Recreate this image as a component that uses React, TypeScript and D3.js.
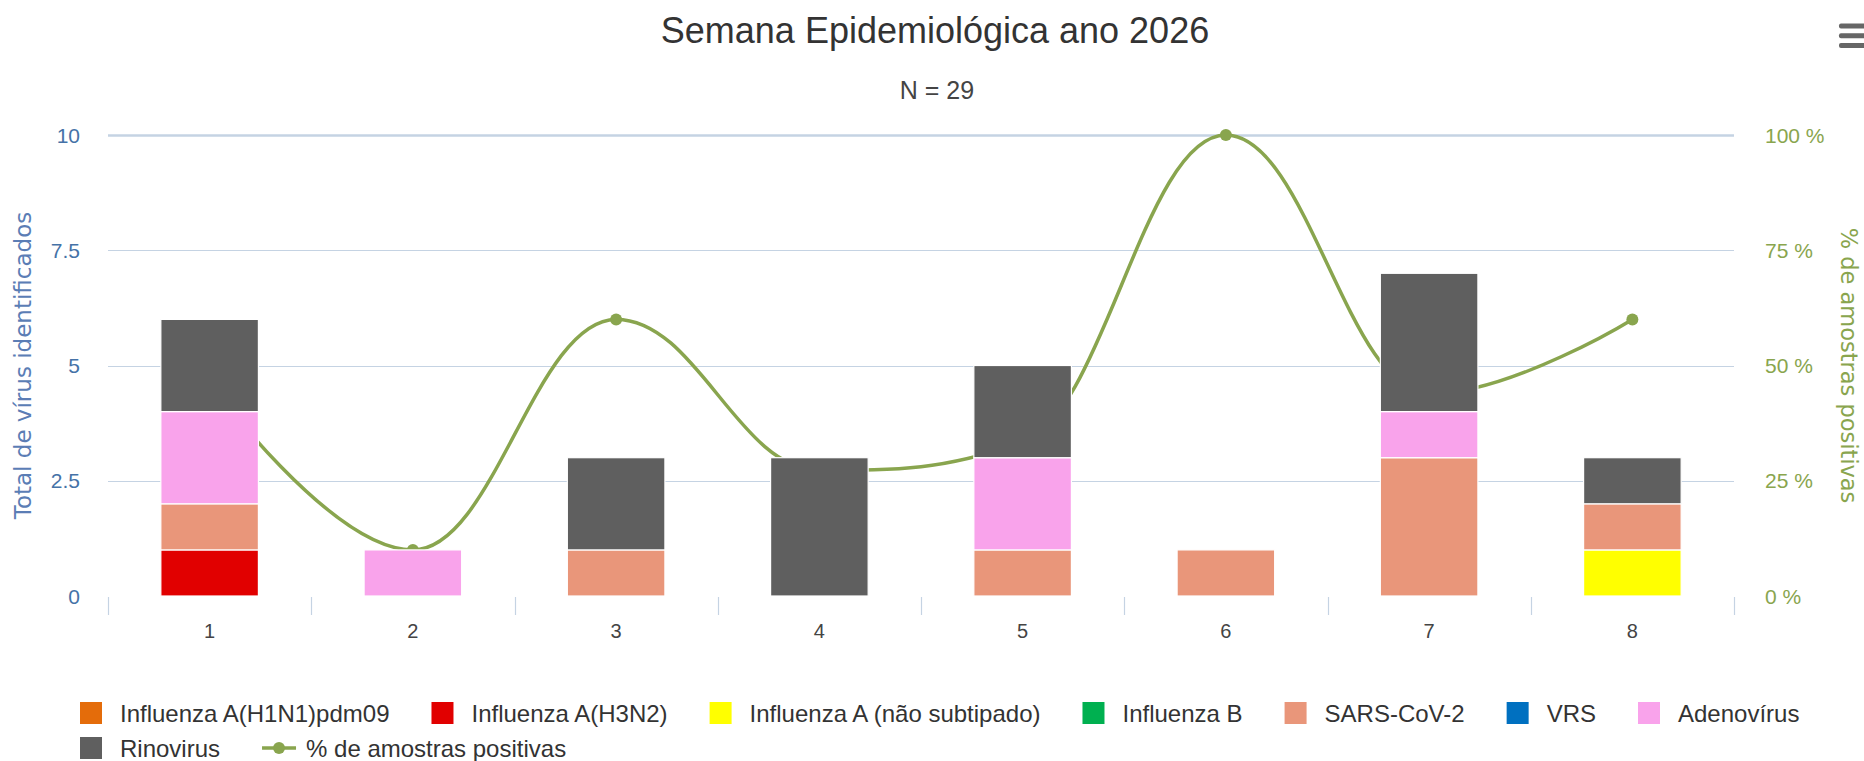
import { useEffect, useRef } from "react";
import * as d3 from "d3";

// chart data
const weeks = ["1", "2", "3", "4", "5", "6", "7", "8"];
const seriesNames = [
	"Influenza A(H1N1)pdm09",
	"Influenza A(H3N2)",
	"Influenza A (não subtipado)",
	"Influenza B",
	"SARS-CoV-2",
	"VRS",
	"Adenovírus",
	"Rinovirus",
];
const seriesColors = ["#E46C0A", "#E10000", "#FFFF00", "#00B050", "#E9967A", "#0070C0", "#F9A3EB", "#5F5F5F"];
const influenzaH1N1 = [0, 0, 0, 0, 0, 0, 0, 0];
const influenzaH3N2 = [1, 0, 0, 0, 0, 0, 0, 0];
const influenzaANaoSubtipado = [0, 0, 0, 0, 0, 0, 0, 1];
const influenzaB = [0, 0, 0, 0, 0, 0, 0, 0];
const sarsCov2 = [1, 0, 1, 0, 1, 1, 3, 1];
const vrs = [0, 0, 0, 0, 0, 0, 0, 0];
const adenovirus = [2, 1, 0, 0, 2, 0, 1, 0];
const rinovirus = [2, 0, 2, 3, 2, 0, 3, 1];
const pctPositivas = [46.2, 10, 60, 27.3, 33.3, 100, 43.8, 60];
const lineName = "% de amostras positivas";
const lineColor = "#89A54E";
const leftTicks = [0, 2.5, 5, 7.5, 10];
const rightTicks = [0, 25, 50, 75, 100];

const W = 1864;
const H = 761;
const FONT = "'Liberation Sans', Arial, sans-serif";

// Highcharts-like spline (smoothing 1.5, no false extremes)
function hcSpline(context: any) {
	let pts: number[][] = [];
	return {
		areaStart() {},
		areaEnd() {},
		lineStart() {
			pts = [];
		},
		point(x: number, y: number) {
			pts.push([+x, +y]);
		},
		lineEnd() {
			const n = pts.length;
			if (!n) return;
			const sm = 1.5;
			const den = sm + 1;
			const lc: number[][] = [];
			const rc: number[][] = [];
			for (let i = 1; i < n - 1; i++) {
				const [px, py] = pts[i];
				const [lx, ly] = pts[i - 1];
				const [nx, ny] = pts[i + 1];
				const lcx = (sm * px + lx) / den;
				let lcy = (sm * py + ly) / den;
				const rcx = (sm * px + nx) / den;
				let rcy = (sm * py + ny) / den;
				const corr = rcx !== lcx ? ((rcy - lcy) * (rcx - px)) / (rcx - lcx) + py - rcy : 0;
				lcy += corr;
				rcy += corr;
				if (lcy > ly && lcy > py) {
					lcy = Math.max(ly, py);
					rcy = 2 * py - lcy;
				} else if (lcy < ly && lcy < py) {
					lcy = Math.min(ly, py);
					rcy = 2 * py - lcy;
				}
				if (rcy > ny && rcy > py) {
					rcy = Math.max(ny, py);
					lcy = 2 * py - rcy;
				} else if (rcy < ny && rcy < py) {
					rcy = Math.min(ny, py);
					lcy = 2 * py - rcy;
				}
				lc[i] = [lcx, lcy];
				rc[i] = [rcx, rcy];
			}
			context.moveTo(pts[0][0], pts[0][1]);
			for (let i = 1; i < n; i++) {
				const a = rc[i - 1] || pts[i - 1];
				const b = lc[i] || pts[i];
				context.bezierCurveTo(a[0], a[1], b[0], b[1], pts[i][0], pts[i][1]);
			}
		},
	};
}

function App() {
	const ref = useRef<SVGSVGElement>(null);

	useEffect(() => {
		const svg = d3.select(ref.current);
		svg.selectAll("*").remove();

		const plot = { left: 108, right: 1734, top: 135, bottom: 596 };

		const seriesValues = [
			influenzaH1N1,
			influenzaH3N2,
			influenzaANaoSubtipado,
			influenzaB,
			sarsCov2,
			vrs,
			adenovirus,
			rinovirus,
		];
		const table = weeks.map((w, i) => {
			const row: any = { week: w };
			seriesNames.forEach((s, k) => (row[s] = seriesValues[k][i]));
			return row;
		});

		const xCat = d3.scaleBand().domain(weeks).range([plot.left, plot.right]);
		const x = d3
			.scaleBand()
			.domain(weeks)
			.range([plot.left, plot.right])
			.paddingInner(0.52)
			.paddingOuter(0.26);
		const y = d3.scaleLinear().domain([0, 10]).range([plot.bottom, plot.top]);
		const yR = d3.scaleLinear().domain([0, 100]).range([plot.bottom, plot.top]);

		// grid
		svg
			.append("g")
			.selectAll("line")
			.data(leftTicks.filter((t) => t > 0))
			.enter()
			.append("line")
			.attr("x1", plot.left)
			.attr("x2", plot.right)
			.attr("y1", (d) => Math.round(y(d)) + 0.5)
			.attr("y2", (d) => Math.round(y(d)) + 0.5)
			.attr("stroke", "#C5D3E3")
			.attr("stroke-width", (d) => (d === 10 ? 2.5 : 1.2));

		// x ticks
		svg
			.append("g")
			.selectAll("line")
			.data([...weeks.map((w) => xCat(w) as number), plot.right])
			.enter()
			.append("line")
			.attr("x1", (d) => Math.round(d) + 0.5)
			.attr("x2", (d) => Math.round(d) + 0.5)
			.attr("y1", plot.bottom + 1)
			.attr("y2", plot.bottom + 19)
			.attr("stroke", "#C5D3E3")
			.attr("stroke-width", 1.2);

		// x labels
		svg
			.append("g")
			.selectAll("text")
			.data(weeks)
			.enter()
			.append("text")
			.attr("x", (d) => (xCat(d) as number) + xCat.bandwidth() / 2)
			.attr("y", 638)
			.attr("text-anchor", "middle")
			.attr("font-family", FONT)
			.attr("font-size", 20)
			.attr("fill", "#444")
			.text((d) => d);

		// left axis labels
		svg
			.append("g")
			.selectAll("text")
			.data(leftTicks)
			.enter()
			.append("text")
			.attr("x", 80)
			.attr("y", (d) => y(d) + 7.5)
			.attr("text-anchor", "end")
			.attr("font-family", FONT)
			.attr("font-size", 21)
			.attr("fill", "#4572A7")
			.text((d) => String(d));

		// right axis labels
		svg
			.append("g")
			.selectAll("text")
			.data(rightTicks)
			.enter()
			.append("text")
			.attr("x", 1765)
			.attr("y", (d) => yR(d) + 7.5)
			.attr("font-family", FONT)
			.attr("font-size", 21)
			.attr("fill", lineColor)
			.text((d) => d + " %");

		// axis titles
		svg
			.append("text")
			.attr("transform", `translate(31,${(plot.top + plot.bottom) / 2}) rotate(-90)`)
			.attr("text-anchor", "middle")
			.attr("font-family", "'DejaVu Sans', Verdana, sans-serif")
			.attr("font-size", 23)
			.attr("fill", "#5B7DB5")
			.text("Total de vírus identificados");
		svg
			.append("text")
			.attr("transform", `translate(1841,${(plot.top + plot.bottom) / 2}) rotate(90)`)
			.attr("text-anchor", "middle")
			.attr("font-family", "'DejaVu Sans', Verdana, sans-serif")
			.attr("font-size", 22.5)
			.attr("fill", lineColor)
			.text(lineName);

		// spline under the columns
		const line = d3
			.line<number>()
			.x((_, i) => (x(weeks[i]) as number) + x.bandwidth() / 2)
			.y((d) => yR(d))
			.curve(hcSpline as any);
		svg
			.append("path")
			.attr("d", line(pctPositivas))
			.attr("fill", "none")
			.attr("stroke", lineColor)
			.attr("stroke-width", 3.5);
		svg
			.append("g")
			.selectAll("circle")
			.data(pctPositivas)
			.enter()
			.append("circle")
			.attr("cx", (_, i) => (x(weeks[i]) as number) + x.bandwidth() / 2)
			.attr("cy", (d) => yR(d))
			.attr("r", 6)
			.attr("fill", lineColor);

		// stacked columns
		const stacked = d3.stack<any>().keys(seriesNames)(table);
		svg
			.append("g")
			.selectAll("g")
			.data(stacked)
			.enter()
			.append("g")
			.attr("fill", (_, k) => seriesColors[k])
			.selectAll("rect")
			.data((s) => s.filter((d) => d[1] - d[0] > 0))
			.enter()
			.append("rect")
			.attr("x", (d) => x(d.data.week) as number)
			.attr("width", x.bandwidth())
			.attr("y", (d) => y(d[1]))
			.attr("height", (d) => y(d[0]) - y(d[1]))
			.attr("stroke", "#FFFFFF")
			.attr("stroke-width", 1.2);

		// title & subtitle
		svg
			.append("text")
			.attr("x", 935)
			.attr("y", 43)
			.attr("text-anchor", "middle")
			.attr("font-family", FONT)
			.attr("font-size", 36)
			.attr("fill", "#333")
			.text("Semana Epidemiológica ano 2026");
		svg
			.append("text")
			.attr("x", 937)
			.attr("y", 99)
			.attr("text-anchor", "middle")
			.attr("font-family", FONT)
			.attr("font-size", 25)
			.attr("fill", "#444")
			.text("N = 29");

		// menu icon
		svg
			.append("g")
			.selectAll("rect")
			.data([26, 35.7, 45.5])
			.enter()
			.append("rect")
			.attr("x", 1839)
			.attr("y", (d) => d - 2.5)
			.attr("width", 34)
			.attr("height", 5)
			.attr("rx", 2)
			.attr("fill", "#666");

		// legend
		const legendItems = [...seriesNames.map((s, k) => ({ name: s, color: seriesColors[k], line: false })), { name: lineName, color: lineColor, line: true }];
		const lg = svg.append("g");
		let lx = 80;
		let row = 0;
		const rowY = [713, 748];
		legendItems.forEach((it) => {
			const g = lg.append("g");
			const t = g
				.append("text")
				.attr("font-family", FONT)
				.attr("font-size", 24)
				.attr("fill", "#333")
				.text(it.name);
			const tw = (t.node() as SVGTextElement).getComputedTextLength();
			const symW = it.line ? 34 : 22;
			const gap = it.line ? 10 : 18;
			if (lx + symW + gap + tw > 1830) {
				row += 1;
				lx = 80;
			}
			const cy = rowY[row];
			if (it.line) {
				g.append("line")
					.attr("x1", lx)
					.attr("x2", lx + symW)
					.attr("y1", cy)
					.attr("y2", cy)
					.attr("stroke", it.color)
					.attr("stroke-width", 3.5);
				g.append("circle").attr("cx", lx + symW / 2).attr("cy", cy).attr("r", 6).attr("fill", it.color);
			} else {
				g.append("rect")
					.attr("x", lx)
					.attr("y", cy - 11)
					.attr("width", 22)
					.attr("height", 22)
					.attr("fill", it.color);
			}
			t.attr("x", lx + symW + gap).attr("y", cy + 8.5);
			lx += symW + gap + tw + 42;
		});
	}, []);

	return (
		<svg
			ref={ref}
			width={W}
			height={H}
			style={{ position: "absolute", left: 0, top: 0, background: "#fff" }}
		/>
	);
}

export default App;
